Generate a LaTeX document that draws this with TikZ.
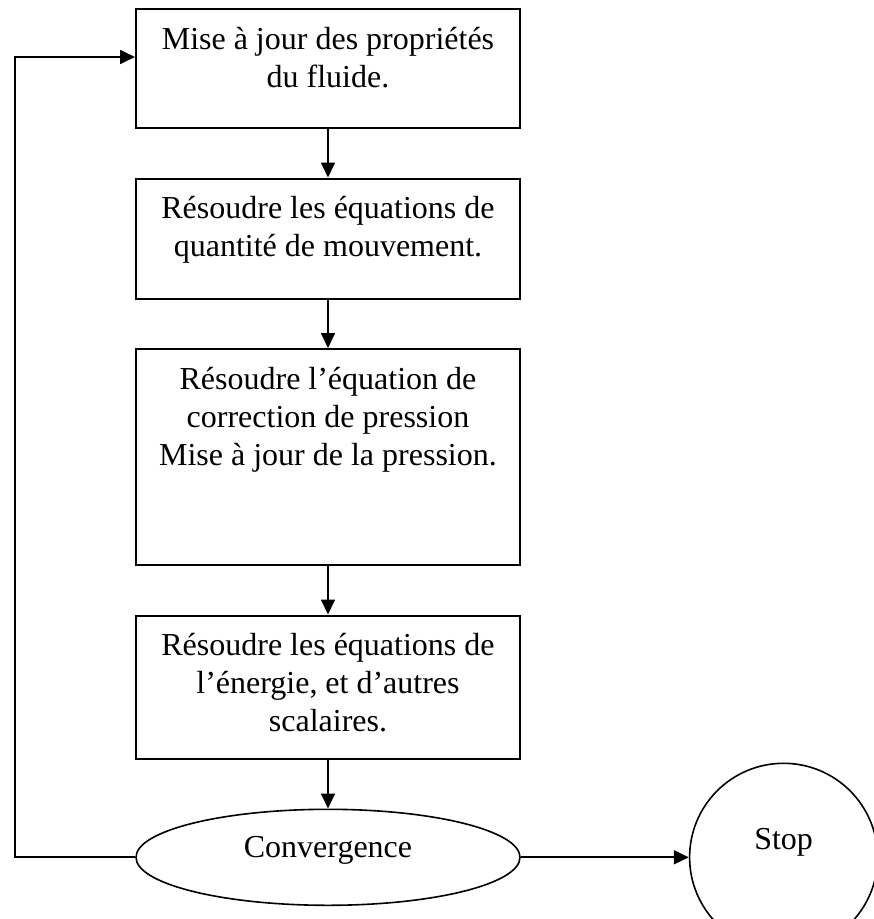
\documentclass[tikz,border=0pt]{standalone}
\usepackage{fontspec}
\setmainfont{Liberation Serif}
\usepackage{tikz}
\usetikzlibrary{shapes, arrows.meta, positioning}
\tikzstyle{b}    = [draw, rectangle, line width=2pt, inner sep=0pt]
\tikzstyle{e}    = [draw, ellipse, line width=1.6pt, inner sep=0pt,
                    minimum width=384pt, minimum height=96pt, text depth=21pt]
\tikzstyle{c}    = [draw, circle, line width=1.6pt, inner sep=0pt,
                    minimum size=188pt, text depth=36pt]
\tikzstyle{arr}  = [draw, line width=1.8pt, -{Triangle[length=15pt,width=14pt]}]
\newcommand{\boxtxt}[2]{\parbox[c][#1][t]{384pt}{\centering\vspace*{18pt}#2}}

\begin{document}
\begin{tikzpicture}[font=\fontsize{32}{38}\selectfont]
\useasboundingbox (0,0) rectangle (874pt,-919pt);

% steps
\node [b                       ]  (b1) at (328pt,-68.5pt)
      {\boxtxt{119pt}{Mise à jour des propriétés\\du fluide.}};
\node [b, below=48.5pt of b1   ]  (b2)
      {\boxtxt{120pt}{Résoudre les équations de\\quantité de mouvement.}};
\node [b, below=48.5pt of b2   ]  (b3)
      {\boxtxt{216pt}{Résoudre l’équation de\\correction de pression\\Mise à jour de la pression.}};
\node [b, below=48.5pt of b3   ]  (b4)
      {\boxtxt{143pt}{Résoudre les équations de\\l’énergie, et d’autres\\scalaires.}};

% test
\node [e, below=49pt of b4     ]  (conv) {Convergence};
\node [c, right=168pt of conv  ]  (stop) {Stop};

\path [arr] (b1) edge (b2)
            (b2) edge (b3)
            (b3) edge (b4)
            (b4) edge (conv)
            (conv) edge (stop);

% back to the top
\draw [arr] (conv.west) -- ++(-120pt,0) |- ([yshift=11.5pt]b1.west);

\end{tikzpicture}
\end{document}
